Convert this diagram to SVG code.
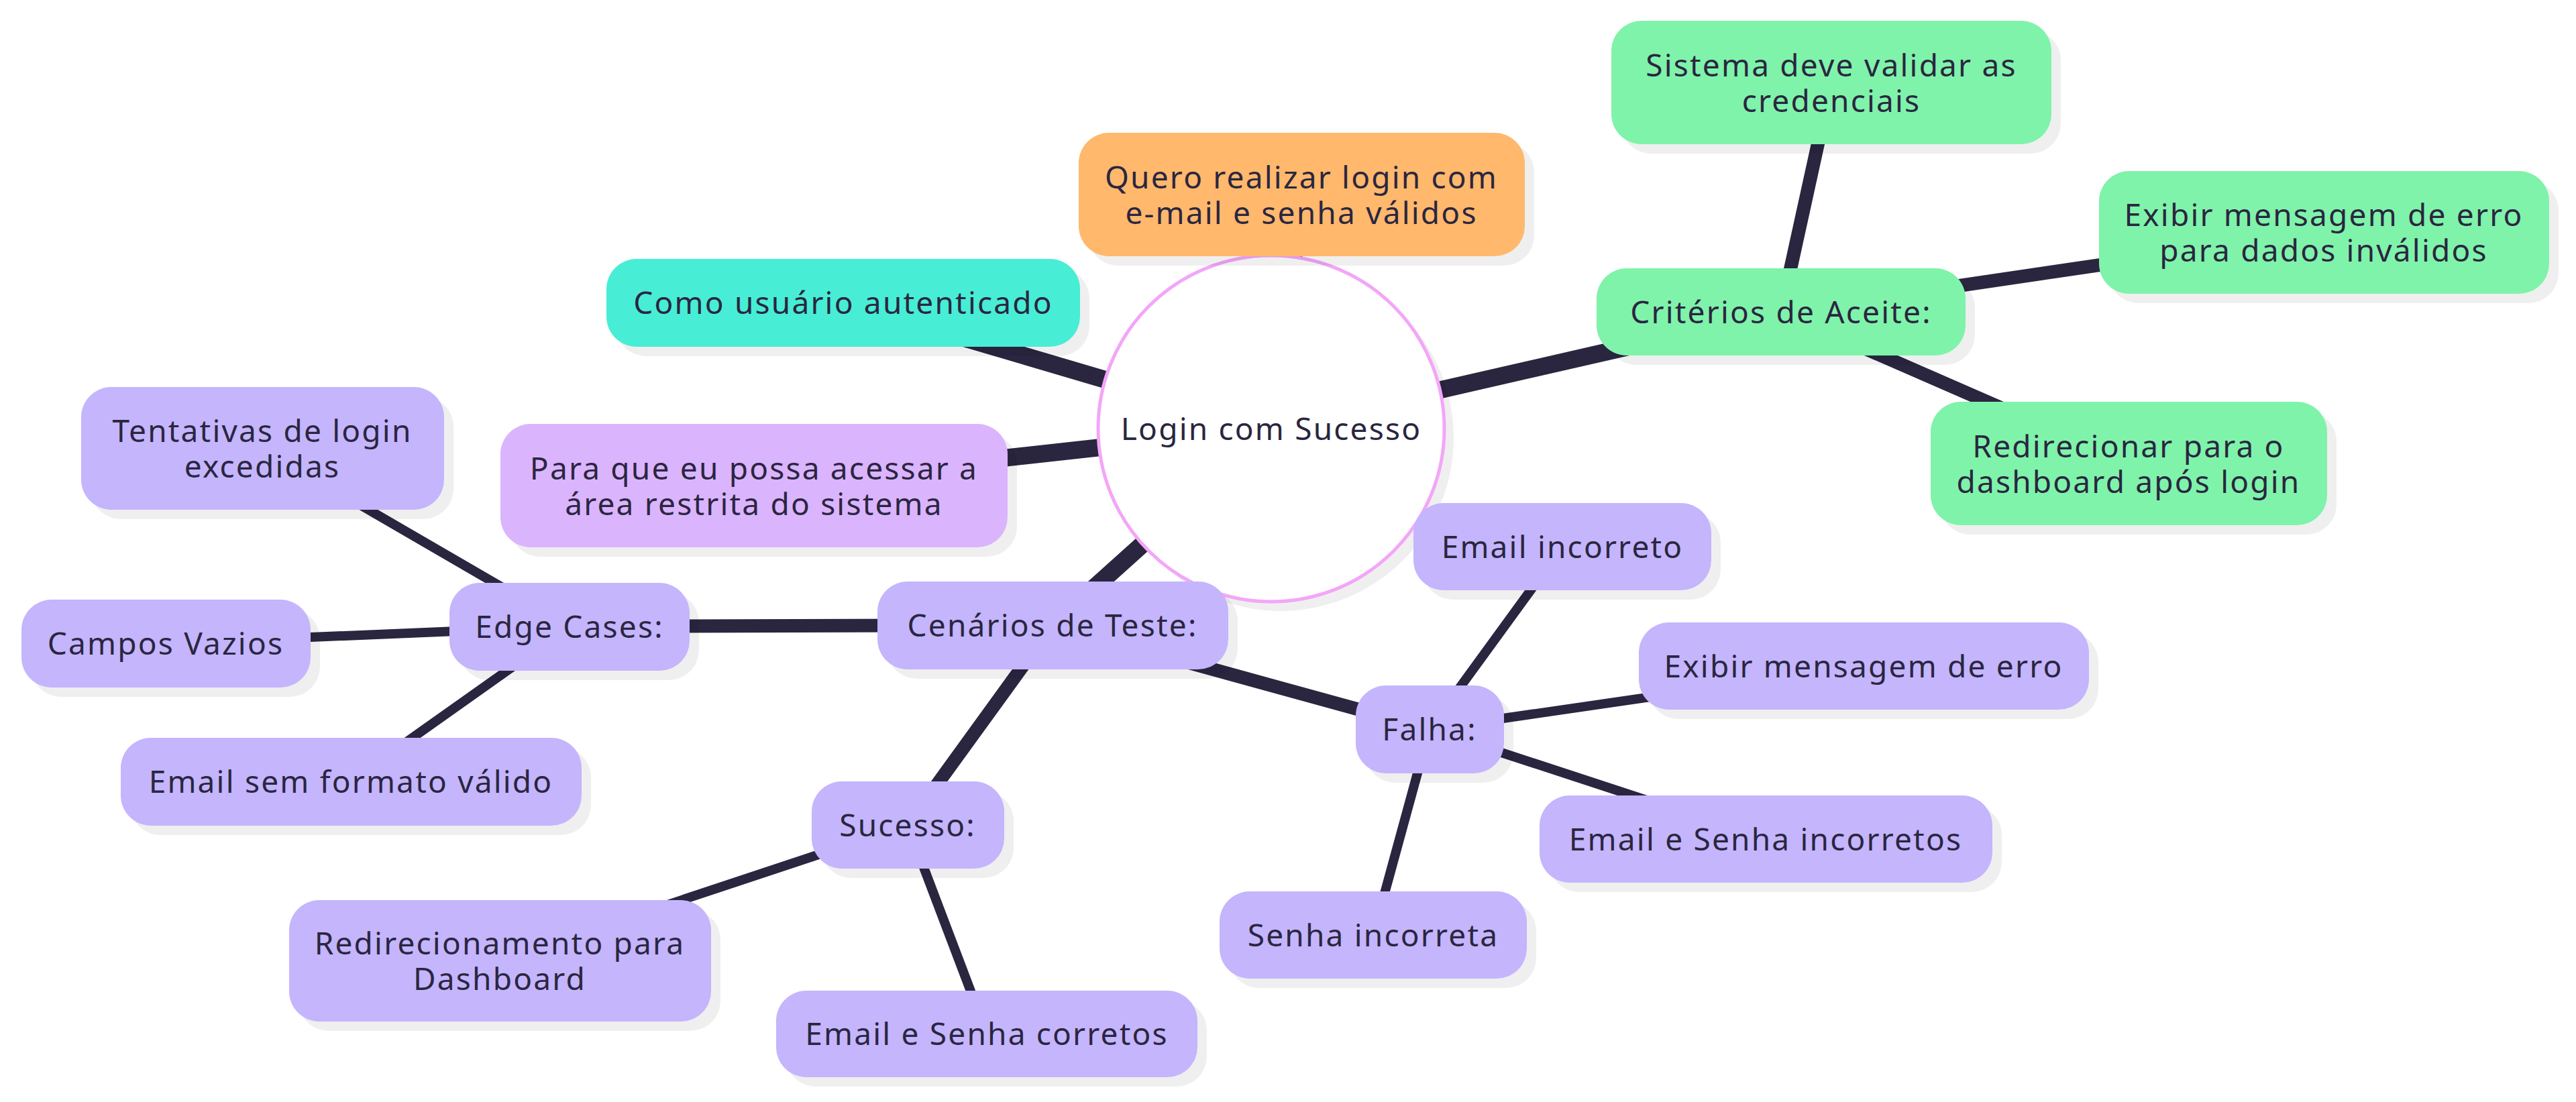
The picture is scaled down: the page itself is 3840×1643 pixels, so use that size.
<svg xmlns="http://www.w3.org/2000/svg" width="3840" height="1643" viewBox="0 0 3840 1643">
<style>
text{font-family:"Noto Sans","Open Sans","DejaVu Sans",sans-serif;font-size:46px;fill:#2A2640;text-anchor:middle;letter-spacing:2.2px}
.sh{fill:#000;fill-opacity:0.063}
.e0{stroke:#2A2640;stroke-width:26;fill:none}
.e1{stroke:#2A2640;stroke-width:20;fill:none}
.e2{stroke:#2A2640;stroke-width:14;fill:none}
.or{fill:#FFB86C}
.tl{fill:#48EDD5}
.pk{fill:#DBB4FE}
.gr{fill:#7FF3AA}
.lv{fill:#C4B5FD}
</style>
<rect width="3840" height="1643" fill="#fff"/>
<g id="connectors">
<line class="e0" x1="1895" y1="639" x2="1940" y2="290"/>
<line class="e0" x1="1895" y1="639" x2="1257" y2="451"/>
<line class="e0" x1="1895" y1="639" x2="1124" y2="724"/>
<line class="e0" x1="1895" y1="639" x2="2655" y2="465"/>
<line class="e0" x1="1895" y1="639" x2="1569" y2="932"/>
<line class="e1" x1="2655" y1="465" x2="2730" y2="123"/>
<line class="e1" x1="2655" y1="465" x2="3464" y2="346"/>
<line class="e1" x1="2655" y1="465" x2="3173" y2="691"/>
<line class="e1" x1="1569" y1="932" x2="849" y2="934"/>
<line class="e1" x1="1569" y1="932" x2="1353" y2="1230"/>
<line class="e1" x1="1569" y1="932" x2="2131" y2="1087"/>
<line class="e2" x1="849" y1="934" x2="391" y2="668"/>
<line class="e2" x1="849" y1="934" x2="247" y2="959"/>
<line class="e2" x1="849" y1="934" x2="523" y2="1165"/>
<line class="e2" x1="1353" y1="1230" x2="745" y2="1432"/>
<line class="e2" x1="1353" y1="1230" x2="1471" y2="1541"/>
<line class="e2" x1="2131" y1="1087" x2="2329" y2="815"/>
<line class="e2" x1="2131" y1="1087" x2="2778" y2="993"/>
<line class="e2" x1="2131" y1="1087" x2="2632" y2="1251"/>
<line class="e2" x1="2131" y1="1087" x2="2047" y2="1394"/>
</g>
<g id="root">
<circle class="sh" cx="1909" cy="653" r="258"/>
<circle cx="1895" cy="639" r="258" fill="#fff" stroke="#F3A6F8" stroke-width="5"/>
<text x="1895" y="656">Login com Sucesso</text>
</g>
<g id="quero">
<rect class="sh" x="1622" y="212" width="665" height="184" rx="45"/>
<rect class="or" x="1608" y="198" width="665" height="184" rx="45"/>
<text x="1940" y="281">Quero realizar login com<tspan x="1940" dy="53">e-mail e senha válidos</tspan></text>
</g>
<g id="como">
<rect class="sh" x="918" y="400" width="706" height="131" rx="45"/>
<rect class="tl" x="904" y="386" width="706" height="131" rx="45"/>
<text x="1257" y="468">Como usuário autenticado</text>
</g>
<g id="para">
<rect class="sh" x="760" y="646" width="756" height="184" rx="45"/>
<rect class="pk" x="746" y="632" width="756" height="184" rx="45"/>
<text x="1124" y="715">Para que eu possa acessar a<tspan x="1124" dy="53">área restrita do sistema</tspan></text>
</g>
<g id="criterios">
<rect class="sh" x="2394" y="414" width="550" height="130" rx="45"/>
<rect class="gr" x="2380" y="400" width="550" height="130" rx="45"/>
<text x="2655" y="482">Critérios de Aceite:</text>
</g>
<g id="sistema">
<rect class="sh" x="2416" y="45" width="656" height="184" rx="45"/>
<rect class="gr" x="2402" y="31" width="656" height="184" rx="45"/>
<text x="2730" y="114">Sistema deve validar as<tspan x="2730" dy="53">credenciais</tspan></text>
</g>
<g id="exibir-erro-dados">
<rect class="sh" x="3143" y="269" width="671" height="183" rx="45"/>
<rect class="gr" x="3129" y="255" width="671" height="183" rx="45"/>
<text x="3464" y="337">Exibir mensagem de erro<tspan x="3464" dy="53">para dados inválidos</tspan></text>
</g>
<g id="redirecionar">
<rect class="sh" x="2892" y="613" width="591" height="184" rx="45"/>
<rect class="gr" x="2878" y="599" width="591" height="184" rx="45"/>
<text x="3173" y="682">Redirecionar para o<tspan x="3173" dy="53">dashboard após login</tspan></text>
</g>
<g id="cenarios">
<rect class="sh" x="1322" y="881" width="523" height="131" rx="45"/>
<rect class="lv" x="1308" y="867" width="523" height="131" rx="45"/>
<text x="1569" y="949">Cenários de Teste:</text>
</g>
<g id="edge-cases">
<rect class="sh" x="684" y="883" width="358" height="131" rx="45"/>
<rect class="lv" x="670" y="869" width="358" height="131" rx="45"/>
<text x="849" y="951">Edge Cases:</text>
</g>
<g id="tentativas">
<rect class="sh" x="135" y="591" width="541" height="183" rx="45"/>
<rect class="lv" x="121" y="577" width="541" height="183" rx="45"/>
<text x="391" y="659">Tentativas de login<tspan x="391" dy="53">excedidas</tspan></text>
</g>
<g id="campos-vazios">
<rect class="sh" x="46" y="908" width="431" height="131" rx="45"/>
<rect class="lv" x="32" y="894" width="431" height="131" rx="45"/>
<text x="247" y="976">Campos Vazios</text>
</g>
<g id="email-sem-formato">
<rect class="sh" x="194" y="1114" width="687" height="131" rx="45"/>
<rect class="lv" x="180" y="1100" width="687" height="131" rx="45"/>
<text x="523" y="1182">Email sem formato válido</text>
</g>
<g id="sucesso">
<rect class="sh" x="1224" y="1179" width="287" height="130" rx="45"/>
<rect class="lv" x="1210" y="1165" width="287" height="130" rx="45"/>
<text x="1353" y="1247">Sucesso:</text>
</g>
<g id="redirecionamento">
<rect class="sh" x="445" y="1356" width="629" height="181" rx="45"/>
<rect class="lv" x="431" y="1342" width="629" height="181" rx="45"/>
<text x="745" y="1423">Redirecionamento para<tspan x="745" dy="53">Dashboard</tspan></text>
</g>
<g id="email-senha-corretos">
<rect class="sh" x="1171" y="1491" width="628" height="129" rx="45"/>
<rect class="lv" x="1157" y="1477" width="628" height="129" rx="45"/>
<text x="1471" y="1558">Email e Senha corretos</text>
</g>
<g id="falha">
<rect class="sh" x="2035" y="1036" width="221" height="131" rx="45"/>
<rect class="lv" x="2021" y="1022" width="221" height="131" rx="45"/>
<text x="2131" y="1104">Falha:</text>
</g>
<g id="email-incorreto">
<rect class="sh" x="2121" y="764" width="444" height="130" rx="45"/>
<rect class="lv" x="2107" y="750" width="444" height="130" rx="45"/>
<text x="2329" y="832">Email incorreto</text>
</g>
<g id="exibir-erro">
<rect class="sh" x="2457" y="942" width="671" height="130" rx="45"/>
<rect class="lv" x="2443" y="928" width="671" height="130" rx="45"/>
<text x="2778" y="1010">Exibir mensagem de erro</text>
</g>
<g id="email-senha-incorretos">
<rect class="sh" x="2309" y="1200" width="675" height="130" rx="45"/>
<rect class="lv" x="2295" y="1186" width="675" height="130" rx="45"/>
<text x="2632" y="1268">Email e Senha incorretos</text>
</g>
<g id="senha-incorreta">
<rect class="sh" x="1832" y="1343" width="458" height="130" rx="45"/>
<rect class="lv" x="1818" y="1329" width="458" height="130" rx="45"/>
<text x="2047" y="1411">Senha incorreta</text>
</g>
</svg>
